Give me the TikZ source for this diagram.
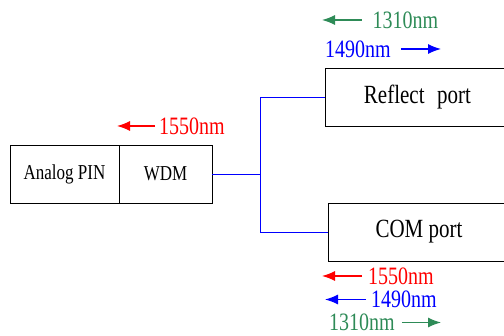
\documentclass[tikz,border=0pt]{standalone}
\usepackage{fontspec}
\setmainfont{Liberation Serif}
\usetikzlibrary{arrows.meta}
\definecolor{seagreen}{RGB}{46,139,87}
\newcommand{\tallText}[1]{\scalebox{1}[1.25]{#1}}
\tikzset{
  box/.style={rectangle,draw,line width=0.9pt,minimum height=58pt,inner sep=0pt},
  wave/.style={line width=1.2pt,-{Latex[length=13pt,width=10pt]}},
  lambda/.style={font=\fontsize{20}{24}\selectfont,inner sep=0pt},
}
\begin{document}
\begin{tikzpicture}[x=1pt,y=-1pt]
\useasboundingbox (0,0) rectangle (504,336);
% receiver side
\node[box,minimum width=109pt,font=\fontsize{17}{20}\selectfont] (pin) at (64.5,174) {\tallText{Analog PIN}};
\node[box,minimum width=93pt,font=\fontsize{17}{20}\selectfont] (wdm) at (165.5,174) {\tallText{WDM}};
% ports
\node[box,minimum width=185pt,font=\fontsize{21}{24}\selectfont] (reflect) at (417.5,97) {\tallText{Reflect\hspace{0.6em}port}};
\node[box,minimum width=182pt,font=\fontsize{21}{24}\selectfont] (com) at (419,232) {\tallText{COM port}};
\coordinate (split) at (260,174);
\draw[blue,line width=0.8pt] (wdm.east) -- (split) |- (reflect.west);
\draw[blue,line width=0.8pt] (split) |- (com.west);
% wavelengths
\node[lambda,red] (wdm1550) at (192,126) {\tallText{1550nm}};
\coordinate (wdm1550tip) at (117,126);
\draw[wave,red] ([xshift=-4pt]wdm1550.west) -- (wdm1550tip);
\node[lambda,seagreen] (ref1310) at (405.5,20) {\tallText{1310nm}};
\coordinate (ref1310tip) at (322,20);
\draw[wave,seagreen] ([xshift=-11pt]ref1310.west) -- (ref1310tip);
\node[lambda,blue] (ref1490) at (358,49) {\tallText{1490nm}};
\coordinate (ref1490tip) at (441,49);
\draw[wave,blue] ([xshift=10pt]ref1490.east) -- (ref1490tip);
\node[lambda,red] (com1550) at (401,276) {\tallText{1550nm}};
\coordinate (com1550tip) at (322,276);
\draw[wave,red] ([xshift=-6pt]com1550.west) -- (com1550tip);
\node[lambda,blue] (com1490) at (404,299.5) {\tallText{1490nm}};
\coordinate (com1490tip) at (325,299.5);
\draw[wave,blue] ([xshift=-5pt]com1490.west) -- (com1490tip);
\node[lambda,seagreen] (com1310) at (362,322.5) {\tallText{1310nm}};
\coordinate (com1310tip) at (441,322.5);
\draw[wave,seagreen] ([xshift=7pt]com1310.east) -- (com1310tip);
\end{tikzpicture}
\end{document}
